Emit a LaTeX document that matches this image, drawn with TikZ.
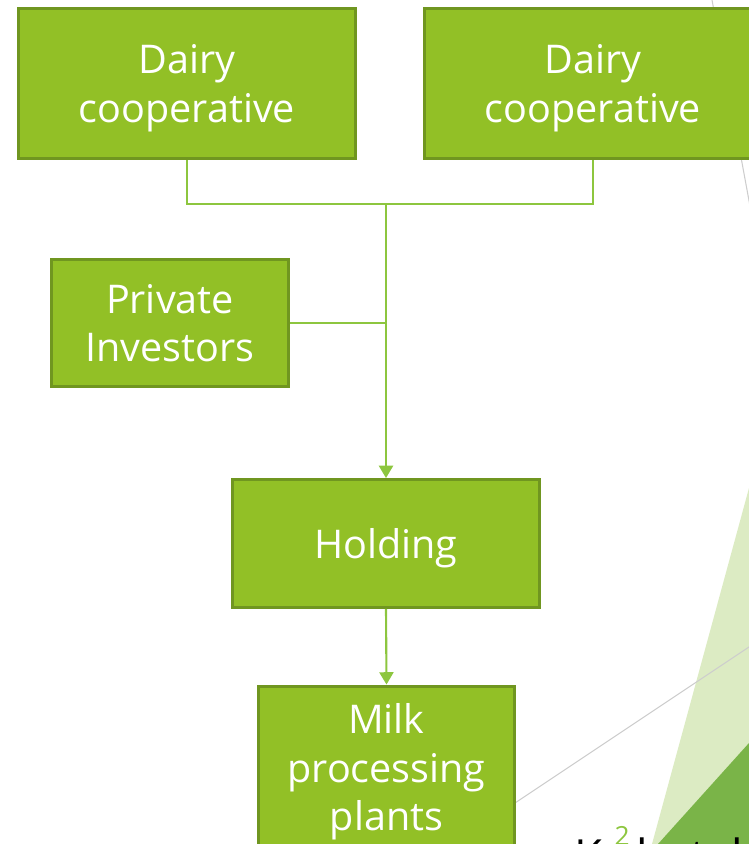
\documentclass[tikz,border=0pt]{standalone}
\usepackage{fontspec}
\setmainfont{Open Sans}
\usetikzlibrary{arrows.meta}

\definecolor{boxfill}{RGB}{146,192,38}
\definecolor{boxedge}{RGB}{112,150,32}
\definecolor{linkgreen}{RGB}{141,198,63}
\definecolor{facetlight}{RGB}{220,235,195}
\definecolor{facetdark}{RGB}{122,180,72}
\definecolor{facetgrey}{RGB}{205,205,205}

\tikzset{
  orgbox/.style={draw=boxedge, line width=1.7pt, fill=boxfill, text=white,
    align=center, inner sep=0pt, text depth=0pt, font=\fontsize{22.5}{27.8}\selectfont},
  link/.style={draw=linkgreen, line width=1.2pt},
  arrowlink/.style={link, -{Triangle[width=8pt,length=7pt]}}
}

\begin{document}
\begin{tikzpicture}[x=0.02cm, y=-0.02cm]
    \useasboundingbox (0,0) rectangle (749,844);
    % background facets
    \fill[facetlight] (749,488) -- (652,844) -- (749,844) -- cycle;
    \fill[facetdark] (749,743) -- (658,844) -- (749,844) -- cycle;
    \draw[facetgrey, line width=0.6pt] (712,0) -- (752,217);
    \draw[facetgrey, line width=0.6pt] (500,813) -- (752,645);
    % boxes
    \node[orgbox, minimum width=6.74cm, minimum height=3cm] (coopA) at (187,83.5) {Dairy\\cooperative};
    \node[orgbox, minimum width=6.74cm, minimum height=3cm] (coopB) at (593,83.5) {Dairy\\cooperative};
    \node[orgbox, minimum width=4.74cm, minimum height=2.54cm] (investors) at (170,323) {Private\\Investors};
    \node[orgbox, minimum width=6.14cm, minimum height=2.56cm] (holding) at (386,543.5) {Holding};
    \node[orgbox, minimum width=5.12cm, minimum height=3.24cm] (plants) at (386.5,767) {Milk\\processing\\plants};
    % connectors
    \coordinate (junction) at (386,204);
    \draw[link] (coopA.south) |- (junction);
    \draw[link] (coopB.south) |- (junction);
    \draw[link] (investors.east) -- (investors.east -| junction);
    \draw[arrowlink] (junction) -- (holding.north);
    \draw[arrowlink] (holding.south) -- (plants.north);
    % footer, cut by the page edge
    \node[anchor=base west, inner sep=0pt, font=\fontsize{26}{30}\selectfont] (footer) at (574,872)
      {K\hspace{7pt}\raisebox{15pt}{\color{linkgreen}\fontsize{15}{15}\selectfont 2}\hspace{4pt}hatabi};
\end{tikzpicture}
\end{document}
